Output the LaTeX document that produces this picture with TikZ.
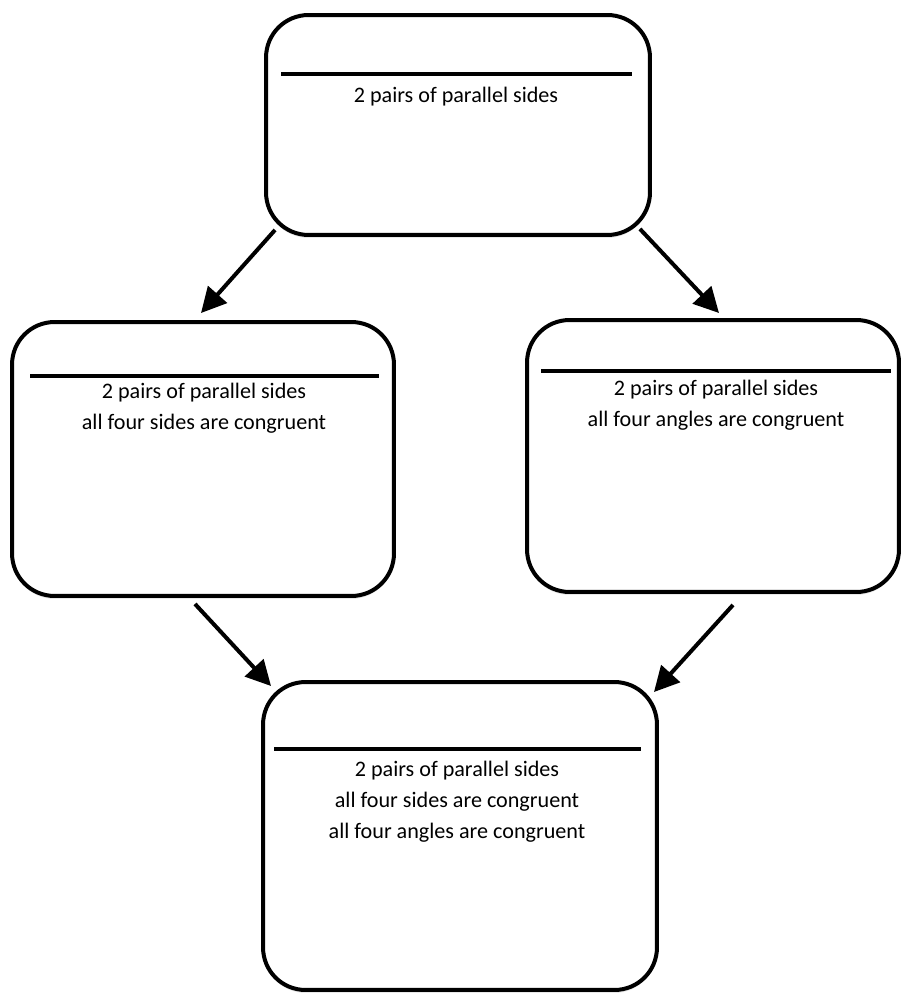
\documentclass[tikz,border=0pt]{standalone}
\usepackage{fontspec}
\setmainfont{Carlito}
\usepackage{tikz}
\usetikzlibrary{arrows.meta,shadows}

\tikzset{
  box/.style={draw, line width=0.08cm, rounded corners=0.85cm, fill=white,
    drop shadow={opacity=0.18, shadow xshift=0pt, shadow yshift=-0.06cm}},
  sepline/.style={line width=0.08cm},
  lbl/.style={align=center, font=\fontsize{12.6}{17.8}\selectfont},
  arr/.style={line width=0.08cm, -{Triangle[length=0.5cm,width=0.5cm]}}
}

\begin{document}
\begin{tikzpicture}[x=0.02cm, y=-0.02cm]
  \useasboundingbox (0,0) rectangle (902,996);
  % define the boxes
  \node[box, minimum width=7.68cm, minimum height=4.4cm] (top) at (458,125) {};
  \node[box, minimum width=7.64cm, minimum height=5.48cm] (left) at (203,459) {};
  \node[box, minimum width=7.44cm, minimum height=5.44cm] (right) at (713,456) {};
  \node[box, minimum width=7.88cm, minimum height=6.16cm] (bottom) at (460,836) {};
  % draw the lines in the boxes
  \draw[sepline] ([shift={(17,61)}]top.north west) -- ([shift={(-20,61)}]top.north east);
  \draw[sepline] ([shift={(20,56)}]left.north west) -- ([shift={(-17,56)}]left.north east);
  \draw[sepline] ([shift={(16,53)}]right.north west) -- ([shift={(-10,53)}]right.north east);
  \draw[sepline] ([shift={(13,69)}]bottom.north west) -- ([shift={(-18,69)}]bottom.north east);
  % the texts
  \node[lbl] (toptxt) at (456,97) {2 pairs of parallel sides};
  \node[lbl] (lefttxt) at (204,408) {2 pairs of parallel sides\\all four sides are congruent};
  \node[lbl] (righttxt) at (716,405.5) {2 pairs of parallel sides\\all four angles are congruent};
  \node[lbl] (bottomtxt) at (457,801.5) {2 pairs of parallel sides\\all four sides are congruent\\all four angles are congruent};
  % draw the arrows
  \draw[arr] ([shift={(11,-7)}]top.south west) -- ([shift={(-2,-7)}]left.north);
  \draw[arr] ([shift={(-12,-8)}]top.south east) -- ([shift={(6,-5)}]right.north);
  \draw[arr] ([shift={(-8,6)}]left.south) -- ([shift={(10,6)}]bottom.north west);
  \draw[arr] ([shift={(20,11)}]right.south) -- ([shift={(-5,12)}]bottom.north east);
\end{tikzpicture}
\end{document}
